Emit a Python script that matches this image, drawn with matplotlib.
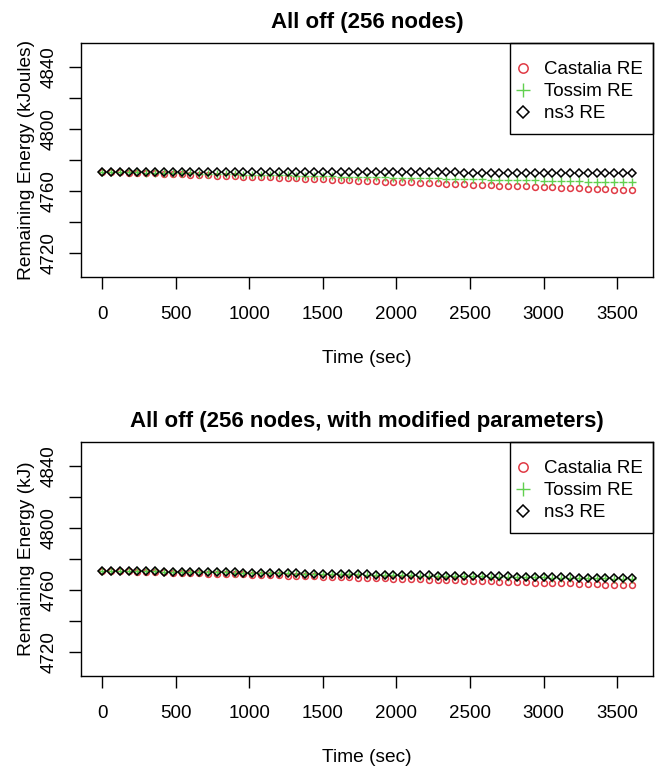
import matplotlib
matplotlib.use("Agg")
import matplotlib.pyplot as plt
from matplotlib.patches import Rectangle

plt.rcParams['font.family'] = ['Liberation Sans', 'DejaVu Sans']

# ── Data ──────────────────────────────────────────────────────
time_sec = list(range(0, 3601, 60))

castalia_a = [4772.5, 4772.3, 4772.1, 4771.9, 4771.7, 4771.5, 4771.3, 4771.1, 4770.9, 4770.7,
              4770.5, 4770.3, 4770.1, 4769.9, 4769.7, 4769.5, 4769.3, 4769.1, 4768.9, 4768.7,
              4768.5, 4768.3, 4768.1, 4767.9, 4767.7, 4767.5, 4767.3, 4767.1, 4766.9, 4766.7,
              4766.5, 4766.3, 4766.1, 4765.9, 4765.7, 4765.5, 4765.3, 4765.1, 4764.9, 4764.7,
              4764.5, 4764.3, 4764.1, 4763.9, 4763.7, 4763.5, 4763.3, 4763.1, 4762.9, 4762.7,
              4762.5, 4762.3, 4762.1, 4761.9, 4761.7, 4761.5, 4761.3, 4761.1, 4760.9, 4760.7,
              4760.5]
tossim_a = [4772.5, 4772.4, 4772.3, 4772.2, 4772.0, 4771.9, 4771.8, 4771.7, 4771.6, 4771.4,
            4771.3, 4771.2, 4771.1, 4771.0, 4770.9, 4770.7, 4770.6, 4770.5, 4770.4, 4770.3,
            4770.2, 4770.0, 4769.9, 4769.8, 4769.7, 4769.6, 4769.5, 4769.3, 4769.2, 4769.1,
            4769.0, 4768.9, 4768.8, 4768.6, 4768.5, 4768.4, 4768.3, 4768.2, 4768.1, 4767.9,
            4767.8, 4767.7, 4767.6, 4767.5, 4767.4, 4767.2, 4767.1, 4767.0, 4766.9, 4766.8,
            4766.7, 4766.5, 4766.4, 4766.3, 4766.2, 4766.1, 4766.0, 4765.8, 4765.7, 4765.6,
            4765.5]
ns3_a = [4772.5, 4772.5, 4772.5, 4772.5, 4772.5, 4772.5, 4772.5, 4772.4, 4772.4, 4772.4,
         4772.4, 4772.4, 4772.4, 4772.4, 4772.3, 4772.3, 4772.3, 4772.3, 4772.3, 4772.3,
         4772.3, 4772.2, 4772.2, 4772.2, 4772.2, 4772.2, 4772.2, 4772.1, 4772.1, 4772.1,
         4772.1, 4772.1, 4772.1, 4772.1, 4772.0, 4772.0, 4772.0, 4772.0, 4772.0, 4772.0,
         4772.0, 4771.9, 4771.9, 4771.9, 4771.9, 4771.9, 4771.9, 4771.8, 4771.8, 4771.8,
         4771.8, 4771.8, 4771.8, 4771.8, 4771.7, 4771.7, 4771.7, 4771.7, 4771.7, 4771.7,
         4771.6]

castalia_b = [4772.5, 4772.3, 4772.2, 4772.0, 4771.9, 4771.7, 4771.6, 4771.4, 4771.2, 4771.1,
              4770.9, 4770.8, 4770.6, 4770.5, 4770.3, 4770.1, 4770.0, 4769.8, 4769.7, 4769.5,
              4769.4, 4769.2, 4769.0, 4768.9, 4768.7, 4768.6, 4768.4, 4768.3, 4768.1, 4767.9,
              4767.8, 4767.6, 4767.5, 4767.3, 4767.2, 4767.0, 4766.8, 4766.7, 4766.5, 4766.4,
              4766.2, 4766.1, 4765.9, 4765.7, 4765.6, 4765.4, 4765.3, 4765.1, 4765.0, 4764.8,
              4764.6, 4764.5, 4764.3, 4764.2, 4764.0, 4763.9, 4763.7, 4763.5, 4763.4, 4763.2,
              4763.1]
tossim_b = [4772.5, 4772.4, 4772.3, 4772.2, 4772.1, 4772.1, 4772.0, 4771.9, 4771.8, 4771.7,
            4771.6, 4771.5, 4771.4, 4771.4, 4771.3, 4771.2, 4771.1, 4771.0, 4770.9, 4770.8,
            4770.7, 4770.7, 4770.6, 4770.5, 4770.4, 4770.3, 4770.2, 4770.1, 4770.0, 4770.0,
            4769.9, 4769.8, 4769.7, 4769.6, 4769.5, 4769.4, 4769.3, 4769.2, 4769.2, 4769.1,
            4769.0, 4768.9, 4768.8, 4768.7, 4768.6, 4768.5, 4768.5, 4768.4, 4768.3, 4768.2,
            4768.1, 4768.0, 4767.9, 4767.8, 4767.8, 4767.7, 4767.6, 4767.5, 4767.4, 4767.3,
            4767.2]
ns3_b = [4772.5, 4772.4, 4772.3, 4772.3, 4772.2, 4772.1, 4772.0, 4771.9, 4771.8, 4771.8,
         4771.7, 4771.6, 4771.5, 4771.4, 4771.3, 4771.3, 4771.2, 4771.1, 4771.0, 4770.9,
         4770.8, 4770.8, 4770.7, 4770.6, 4770.5, 4770.4, 4770.3, 4770.3, 4770.2, 4770.1,
         4770.0, 4769.9, 4769.8, 4769.8, 4769.7, 4769.6, 4769.5, 4769.4, 4769.3, 4769.3,
         4769.2, 4769.1, 4769.0, 4768.9, 4768.8, 4768.8, 4768.7, 4768.6, 4768.5, 4768.4,
         4768.3, 4768.3, 4768.2, 4768.1, 4768.0, 4767.9, 4767.8, 4767.8, 4767.7, 4767.6,
         4767.5]

x_ticks = [0, 500, 1000, 1500, 2000, 2500, 3000, 3500]
y_ticks = [4720, 4740, 4760, 4780, 4800, 4820, 4840]
y_labels = ['4720', '', '4760', '', '4800', '', '4840']

RED = '#E03A45'
GREEN = '#61D04F'
FS = 13.5
FS_LAB = 13.8


def panel(ax, cas, tos, ns3, title, ylabel):
    ax.plot(time_sec, cas, ls='none', marker='o', ms=4.2, mfc='none', mec=RED, mew=1.1,
            label='Castalia RE')
    ax.plot(time_sec, tos, ls='none', marker='+', ms=6, mec=GREEN, mew=1.0,
            label='Tossim RE')
    ax.plot(time_sec, ns3, ls='none', marker='D', ms=3.8, mfc='none', mec='black', mew=1.1,
            label='ns3 RE')

    ax.set_xlim(-144, 3744)
    ax.set_ylim(4704.4, 4855.6)
    ax.set_xticks(x_ticks)
    ax.set_yticks(y_ticks)
    ax.set_yticklabels(y_labels, rotation=90, va='center')
    ax.tick_params(direction='out', length=8.6, width=1, labelsize=FS, pad=12)
    ax.tick_params(axis='y', pad=8)
    for s in ax.spines.values():
        s.set_linewidth(1.0)
    ax.set_title(title, fontsize=16, fontweight='bold', pad=11)
    ax.set_xlabel('Time (sec)', fontsize=FS_LAB, labelpad=20)
    ax.set_ylabel(ylabel, fontsize=FS_LAB, labelpad=4)

    # legend box in R style: square frame in the top-right corner
    ax.add_patch(Rectangle((429 / 572, 143 / 234), 143 / 572, 91 / 234,
                           transform=ax.transAxes, fill=False, ec='black', lw=1.0,
                           zorder=5, clip_on=False))
    ax.legend(loc='upper left', bbox_to_anchor=(434.5 / 572, 216 / 234),
              borderaxespad=0, borderpad=0, frameon=False,
              fontsize=FS, handlelength=0.8, handletextpad=0.72,
              labelspacing=0.26, markerscale=1.6)


fig = plt.figure(figsize=(6.61, 7.72), dpi=100)
ax1 = fig.add_axes([81 / 661, 1 - 277 / 772, 572 / 661, 234 / 772])
ax2 = fig.add_axes([81 / 661, 1 - 676 / 772, 572 / 661, 234 / 772])

panel(ax1, castalia_a, tossim_a, ns3_a, 'All off (256 nodes)',
      'Remaining Energy (kJoules)')
panel(ax2, castalia_b, tossim_b, ns3_b, 'All off (256 nodes, with modified parameters)',
      'Remaining Energy (kJ)')

fig.savefig('out.png', dpi=100)
